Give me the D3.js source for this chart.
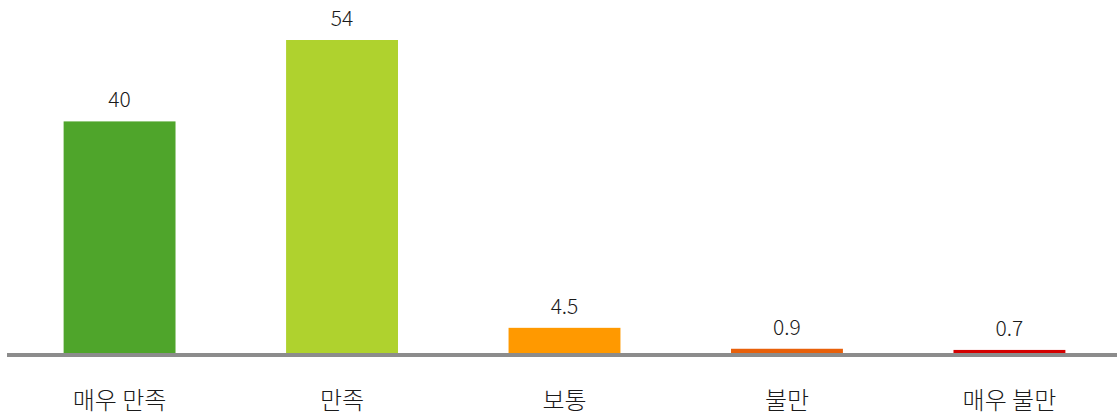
<!DOCTYPE html>
<html><head><meta charset="utf-8">
<script src="https://cdn.jsdelivr.net/npm/d3@7"></script>
<style>body{margin:0;background:#fff;}svg{display:block;}</style>
</head><body>
<svg id="chart" width="1117" height="415"></svg>
<script>
const categories = ["매우 만족", "만족", "보통", "불만", "매우 불만"];
const values = [40, 54, 4.5, 0.9, 0.7];
const valueLabels = ["40", "54", "4.5", "0.9", "0.7"];
const colors = ["#4fa52b", "#afd22e", "#ff9900", "#e8600a", "#d40000"];

const svg = d3.select("#chart");
const font = "'Noto Sans CJK KR', 'Noto Sans', sans-serif";
const x = d3.scaleBand().domain(categories).range([8, 1121]).paddingInner(0.497).paddingOuter(0.25);
const y = d3.scaleLinear().domain([0, 54]).range([354, 40]);

svg.selectAll("rect.bar").data(values).enter().append("rect")
  .attr("x", (d, i) => x(categories[i]))
  .attr("y", d => y(d))
  .attr("width", x.bandwidth())
  .attr("height", d => y(0) - y(d))
  .attr("fill", (d, i) => colors[i]);

svg.append("line").attr("x1", 7).attr("x2", 1117).attr("y1", 355).attr("y2", 355)
  .attr("stroke", "#8c8c8c").attr("stroke-width", 4);

svg.selectAll("text.val").data(values).enter().append("text")
  .attr("x", (d, i) => x(categories[i]) + x.bandwidth() / 2)
  .attr("y", d => y(d) - 14)
  .attr("text-anchor", "middle")
  .attr("font-family", font).attr("font-size", 21).attr("font-weight", 300).attr("fill", "#1a1a1a")
  .text((d, i) => valueLabels[i]);

svg.selectAll("text.cat").data(categories).enter().append("text")
  .attr("x", d => x(d) + x.bandwidth() / 2)
  .attr("y", 409)
  .attr("text-anchor", "middle")
  .attr("font-family", font).attr("font-size", 24).attr("font-weight", 300).attr("fill", "#1a1a1a")
  .text(d => d);
</script>
</body></html>
